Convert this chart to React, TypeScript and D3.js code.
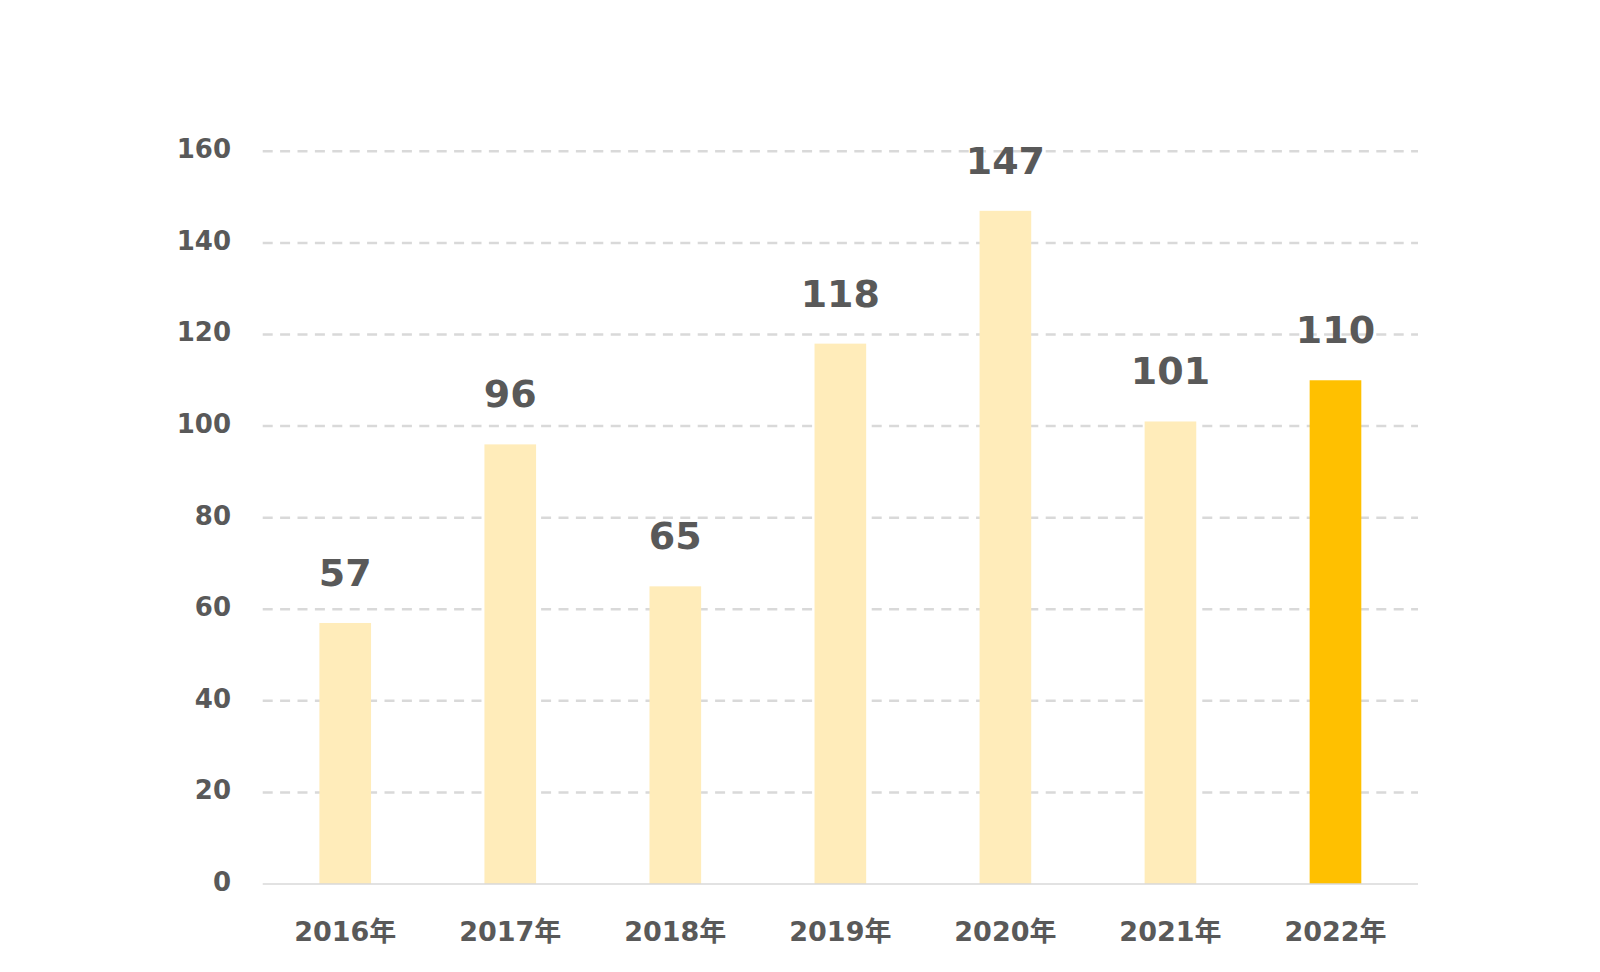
import React from "react";
import * as d3 from "d3";

const categories = ["2016年", "2017年", "2018年", "2019年", "2020年", "2021年", "2022年"];
const values = [57, 96, 65, 118, 147, 101, 110];
const highlight = ["2022年"];
const yTicks = [0, 20, 40, 60, 80, 100, 120, 140, 160];

const W = 1600;
const H = 972;
const left = 262.7;
const right = 1418;
const top = 151.3;
const bottom = 884;

export default function App() {
  const x = d3.scaleBand<string>().domain(categories).range([left, right]).paddingInner(0.687).paddingOuter(0.3435);
  const y = d3.scaleLinear().domain([0, 160]).range([bottom, top]);
  const font = "'DejaVu Sans', Verdana, 'Noto Sans CJK JP', sans-serif";
  return (
    <svg width={W} height={H} style={{ position: "absolute", left: 0, top: 0, background: "#fff" }}>
      {yTicks.filter((t) => t > 0).map((t) => (
        <line key={t} x1={left} x2={right} y1={y(t)} y2={y(t)} stroke="#D9D9D9" strokeWidth={2.5} strokeDasharray="10,7.4" />
      ))}
      {categories.map((c, i) => (
        <rect key={c} x={x(c)} y={y(values[i])} width={x.bandwidth()} height={bottom - y(values[i])}
          fill={highlight.includes(c) ? "#FFC000" : "#FFECBA"} />
      ))}
      <line x1={left} x2={right} y1={bottom} y2={bottom} stroke="#D9D9D9" strokeWidth={1.5} />
      {yTicks.map((t) => (
        <text key={t} x={231} y={y(t)} dy="0.27em" textAnchor="end" fontFamily={font} fontWeight="bold" fontSize={26} fill="#595959">{t}</text>
      ))}
      {categories.map((c, i) => (
        <text key={c} x={x(c)! + x.bandwidth() / 2} y={y(values[i]) - 37} textAnchor="middle" fontFamily={font} fontWeight="bold" fontSize={38} fill="#595959">{values[i]}</text>
      ))}
      {categories.map((c) => (
        <text key={c} x={x(c)! + x.bandwidth() / 2} y={941} textAnchor="middle" fontFamily={font} fontWeight="bold" fontSize={27} fill="#595959">{c}</text>
      ))}
    </svg>
  );
}
